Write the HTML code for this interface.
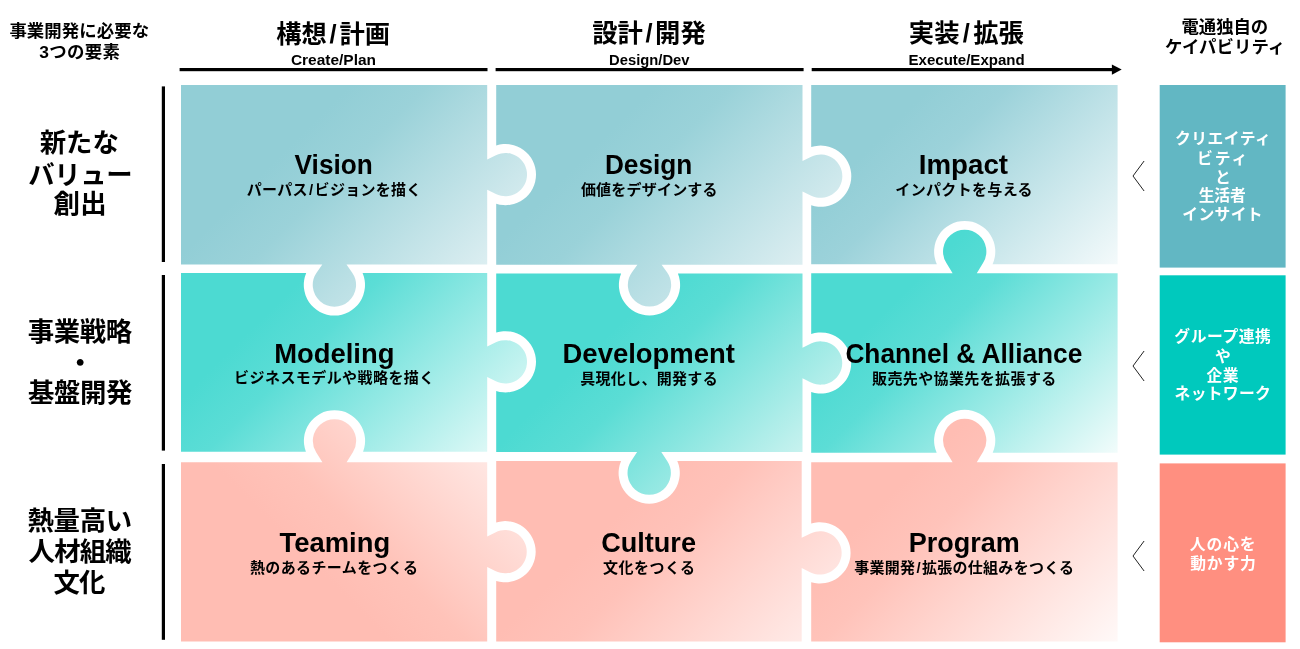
<!DOCTYPE html>
<html lang="ja">
<head>
<meta charset="utf-8">
<title>事業開発に必要な3つの要素</title>
<style>
html,body{margin:0;padding:0;background:#fff;}
body{width:1300px;height:649px;overflow:hidden;}
svg{display:block;will-change:transform;}
text{font-family:"Liberation Sans", "Noto Sans CJK JP", sans-serif;font-weight:700;text-anchor:middle;}
.cap text{fill:#fff;}
.chev{fill:none;stroke:#222;stroke-width:1;}
</style>
</head>
<body>
<svg width="1300" height="649" viewBox="0 0 1300 649" role="img" aria-label="事業開発に必要な3つの要素と電通独自のケイパビリティ">
<defs>
<linearGradient id="g00" gradientUnits="userSpaceOnUse" x1="181" y1="85.1" x2="423.75" y2="327.85"><stop offset="0.35" stop-color="#92ced6"/><stop offset="0.51" stop-color="#9bd2d9"/><stop offset="1" stop-color="#dceef1"/></linearGradient>
<linearGradient id="g01" gradientUnits="userSpaceOnUse" x1="496.2" y1="85.1" x2="739" y2="327.9"><stop offset="0.33" stop-color="#92ced6"/><stop offset="0.49" stop-color="#9ad2d9"/><stop offset="1" stop-color="#dceef1"/></linearGradient>
<linearGradient id="g02" gradientUnits="userSpaceOnUse" x1="811.2" y1="85.1" x2="1054.05" y2="327.95"><stop offset="0.25" stop-color="#92ced6"/><stop offset="0.41" stop-color="#9cd2da"/><stop offset="1" stop-color="#f4fafb"/></linearGradient>
<linearGradient id="g10" gradientUnits="userSpaceOnUse" x1="181" y1="273.2" x2="423.6" y2="515.8"><stop offset="0.26" stop-color="#4cdad2"/><stop offset="0.42" stop-color="#5bddd6"/><stop offset="1" stop-color="#dcf8f6"/></linearGradient>
<linearGradient id="g11" gradientUnits="userSpaceOnUse" x1="496.2" y1="273.2" x2="738.85" y2="515.85"><stop offset="0.36" stop-color="#4cdad2"/><stop offset="0.52" stop-color="#5bddd5"/><stop offset="1" stop-color="#c8f2ef"/></linearGradient>
<linearGradient id="g12" gradientUnits="userSpaceOnUse" x1="811.2" y1="273.2" x2="1053.9" y2="515.9"><stop offset="0.23" stop-color="#4cdad2"/><stop offset="0.39" stop-color="#5cddd6"/><stop offset="1" stop-color="#f2fcfb"/></linearGradient>
<linearGradient id="g20" gradientUnits="userSpaceOnUse" x1="181" y1="641.6" x2="423.95" y2="398.65"><stop offset="0.43" stop-color="#ffbdb3"/><stop offset="0.59" stop-color="#ffc3b9"/><stop offset="1" stop-color="#ffe6e2"/></linearGradient>
<linearGradient id="g21" gradientUnits="userSpaceOnUse" x1="496.2" y1="461.9" x2="739.2" y2="704.9"><stop offset="0.36" stop-color="#ffbdb3"/><stop offset="0.52" stop-color="#ffc2b9"/><stop offset="1" stop-color="#ffeae7"/></linearGradient>
<linearGradient id="g22" gradientUnits="userSpaceOnUse" x1="811.2" y1="461.9" x2="1054.25" y2="704.95"><stop offset="0.23" stop-color="#ffbdb3"/><stop offset="0.39" stop-color="#ffc3ba"/><stop offset="1" stop-color="#fff9f8"/></linearGradient>
</defs>
<rect width="1300" height="649" fill="#fff"/>
<g class="phases">
<rect x="179.6" y="68" width="307.9" height="3.2"/>
<rect x="495.6" y="68" width="308" height="3.2"/>
<rect x="811.7" y="68" width="301" height="3.2"/>
<path d="M1111.9 64.6L1121.7 69.6L1111.9 74.7Z"/>
<text x="333.08" y="42.81" font-size="25.3">構想<tspan dx="2.8">/</tspan><tspan dx="2.8">計画</tspan></text>
<text x="333.45" y="64.5" font-size="14.3" textLength="85.09" lengthAdjust="spacingAndGlyphs">Create/Plan</text>
<text x="649" y="42.49" font-size="25.3">設計<tspan dx="2.6">/</tspan><tspan dx="2.6">開発</tspan></text>
<text x="649.29" y="64.5" font-size="14.3" textLength="80.4" lengthAdjust="spacingAndGlyphs">Design/Dev</text>
<text x="966.36" y="42.47" font-size="25.3">実装<tspan dx="3.4">/</tspan><tspan dx="3.4">拡張</tspan></text>
<text x="966.62" y="64.5" font-size="14.3" textLength="116.21" lengthAdjust="spacingAndGlyphs">Execute/Expand</text>
</g>
<g class="elements">
<text x="79.24" y="37.11" font-size="17.4" textLength="139.66" lengthAdjust="spacing">事業開発に必要な</text>
<text x="79.54" y="57.81" font-size="17.4" textLength="80.53" lengthAdjust="spacing">3つの要素</text>
<g class="element">
<rect x="161.8" y="86.4" width="3.2" height="175.6"/>
<text x="79.23" y="151.5" font-size="26.4" textLength="79.11" lengthAdjust="spacing">新たな</text>
<text x="80.38" y="183.7" font-size="26.4" textLength="104.42" lengthAdjust="spacing">バリュー</text>
<text x="80.13" y="212.99" font-size="26.4" textLength="53.23" lengthAdjust="spacing">創出</text>
</g>
<g class="element">
<rect x="161.8" y="275" width="3.2" height="175.6"/>
<text x="79.96" y="341.04" font-size="26.4" textLength="104.36" lengthAdjust="spacing">事業戦略</text>
<text x="80.1" y="371.88" font-size="26.4">・</text>
<text x="80.15" y="402.03" font-size="26.4" textLength="104.27" lengthAdjust="spacing">基盤開発</text>
</g>
<g class="element">
<rect x="161.8" y="464" width="3.2" height="175.8"/>
<text x="79.82" y="529.99" font-size="26.4" textLength="104.54" lengthAdjust="spacing">熱量高い</text>
<text x="80.16" y="560.78" font-size="26.4" textLength="103.19" lengthAdjust="spacing">人材組織</text>
<text x="79.48" y="591.54" font-size="26.4" textLength="52" lengthAdjust="spacing">文化</text>
</g>
</g>
<g class="puzzle">
<path d="M181 85.1L487.2 85.1L487.2 159.4L495.89 155.15 A21.65 21.65 0 1 1 495.89 194.05 L487.2 189.8L487.2 264.4L346.5 264.4L352.23 272.72 A21.65 21.65 0 1 1 316.57 272.72 L322.3 264.4L181 264.4Z" fill="url(#g00)"/>
<path d="M496.2 85.1L802.5 85.1L802.5 161L811.19 156.75 A21.65 21.65 0 1 1 811.19 195.65 L802.5 191.4L802.5 264.7L661.6 264.7L667.03 272.2 A21.65 21.65 0 1 1 631.97 272.2 L637.4 264.7L496.2 264.7L496.2 203.78 A30.6 30.6 0 1 0 496.2 145.42Z" fill="url(#g01)"/>
<path d="M811.2 85.1L1117.6 85.1L1117.6 264.2L992.54 264.2 A30.6 30.6 0 1 0 936.86 264.2L811.2 264.2L811.2 205.29 A30.6 30.6 0 1 0 811.2 147.11Z" fill="url(#g02)"/>
<path d="M181 273.1L306.21 273.1 A30.6 30.6 0 1 0 362.59 273.1L487.2 273.1L487.2 346.6L495.89 342.35 A21.65 21.65 0 1 1 495.89 381.25 L487.2 377L487.2 451.7L363.09 451.7 A30.6 30.6 0 1 0 305.91 451.7L181 451.7Z" fill="url(#g10)"/>
<path d="M496.2 273.5L621.1 273.5 A30.6 30.6 0 1 0 677.9 273.5L802.5 273.5L802.5 347.8L811 343.59 A21.65 21.65 0 1 1 811 382.41 L802.5 378.2L802.5 452L661.3 452L667.35 461.29 A21.65 21.65 0 1 1 631.05 461.29 L637.1 452L496.2 452L496.2 390.98 A30.6 30.6 0 1 0 496.2 332.62Z" fill="url(#g11)"/>
<path d="M811.2 273.2L952.6 273.2L946.24 262.8 A21.65 21.65 0 1 1 983.16 262.8 L976.8 273.2L1117.6 273.2L1117.6 452.7L992.72 452.7 A30.6 30.6 0 1 0 936.68 452.7L811.2 452.7L811.2 392.12 A30.6 30.6 0 1 0 811.2 333.88Z" fill="url(#g12)"/>
<path d="M181 462.3L322.4 462.3L316.14 452.27 A21.65 21.65 0 1 1 352.86 452.27 L346.6 462.3L487.2 462.3L487.2 536.5L495.31 532.39 A21.65 21.65 0 1 1 495.31 571.01 L487.2 566.9L487.2 641.6L181 641.6Z" fill="url(#g20)"/>
<path d="M496.2 461L621.09 461 A30.6 30.6 0 1 0 677.31 461L801.7 461L801.7 537.7L810.58 533.41 A21.65 21.65 0 1 1 810.58 572.39 L801.7 568.1L801.7 641.6L496.2 641.6L496.2 580.98 A30.6 30.6 0 1 0 496.2 522.42Z" fill="url(#g21)"/>
<path d="M811.2 462.3L952.6 462.3L946.14 451.55 A21.65 21.65 0 1 1 983.26 451.55 L976.8 462.3L1117.6 462.3L1117.6 641.6L811.2 641.6L811.2 582.21 A30.6 30.6 0 1 0 811.2 523.59Z" fill="url(#g22)"/>
<g class="piece-label">
<text x="333.71" y="174" font-size="27" textLength="78.19" lengthAdjust="spacingAndGlyphs">Vision</text>
<text x="334.07" y="194.77" font-size="15" textLength="174.58" lengthAdjust="spacing">パーパス<tspan dx="1.2">/</tspan><tspan dx="1.2">ビジョンを描く</tspan></text>
</g>
<g class="piece-label">
<text x="648.58" y="174" font-size="27" textLength="87.36" lengthAdjust="spacingAndGlyphs">Design</text>
<text x="649.23" y="194.89" font-size="15" textLength="136.65" lengthAdjust="spacing">価値をデザインする</text>
</g>
<g class="piece-label">
<text x="963.41" y="174" font-size="27" textLength="89.26" lengthAdjust="spacingAndGlyphs">Impact</text>
<text x="963.94" y="194.86" font-size="15" textLength="137.21" lengthAdjust="spacing">インパクトを与える</text>
</g>
<g class="piece-label">
<text x="334.33" y="362.5" font-size="27" textLength="120.25" lengthAdjust="spacingAndGlyphs">Modeling</text>
<text x="334.18" y="383.28" font-size="15" textLength="200.14" lengthAdjust="spacing">ビジネスモデルや戦略を描く</text>
</g>
<g class="piece-label">
<text x="648.75" y="362.5" font-size="27" textLength="172.4" lengthAdjust="spacingAndGlyphs">Development</text>
<text x="648.94" y="383.97" font-size="15" textLength="137.51" lengthAdjust="spacing">具現化し、開発する</text>
</g>
<g class="piece-label">
<text x="963.87" y="362.5" font-size="27" textLength="236.95" lengthAdjust="spacingAndGlyphs">Channel &amp; Alliance</text>
<text x="964.17" y="383.58" font-size="15" textLength="184.22" lengthAdjust="spacing">販売先や協業先を拡張する</text>
</g>
<g class="piece-label">
<text x="334.86" y="551.7" font-size="27" textLength="110.53" lengthAdjust="spacingAndGlyphs">Teaming</text>
<text x="333.97" y="572.74" font-size="15" textLength="167.94" lengthAdjust="spacing">熱のあるチームをつくる</text>
</g>
<g class="piece-label">
<text x="648.54" y="551.7" font-size="27" textLength="94.82" lengthAdjust="spacingAndGlyphs">Culture</text>
<text x="648.99" y="572.53" font-size="15" textLength="92.2" lengthAdjust="spacing">文化をつくる</text>
</g>
<g class="piece-label">
<text x="964.28" y="551.7" font-size="27" textLength="111.07" lengthAdjust="spacingAndGlyphs">Program</text>
<text x="964.14" y="573.02" font-size="15" textLength="219.99" lengthAdjust="spacing">事業開発<tspan dx="1.2">/</tspan><tspan dx="1.2">拡張の仕組みをつくる</tspan></text>
</g>
</g>
<g class="capabilities">
<text x="1224.84" y="32.8" font-size="17.4" textLength="86.68" lengthAdjust="spacing">電通独自の</text>
<text x="1225.05" y="53.32" font-size="17.4" textLength="120.26" lengthAdjust="spacing">ケイパビリティ</text>
<g class="cap">
<path class="chev" d="M1144.1 161 L1133 176 L1144.1 191"/>
<rect x="1159.7" y="85" width="125.9" height="182.6" fill="#62b7c3"/>
<text x="1222.9" y="143.75" font-size="15.8" textLength="96.04" lengthAdjust="spacing">クリエイティ</text>
<text x="1222.21" y="163.53" font-size="15.8" textLength="50.31" lengthAdjust="spacing">ビティ</text>
<text x="1223.02" y="182.58" font-size="15.8">と</text>
<text x="1222.23" y="200.82" font-size="15.8" textLength="46.94" lengthAdjust="spacing">生活者</text>
<text x="1222.47" y="220.14" font-size="15.8" textLength="80.33" lengthAdjust="spacing">インサイト</text>
</g>
<g class="cap">
<path class="chev" d="M1144.1 351 L1133 366 L1144.1 381"/>
<rect x="1159.7" y="275.3" width="125.9" height="179.3" fill="#00c9bd"/>
<text x="1222.61" y="342.38" font-size="15.8" textLength="96.64" lengthAdjust="spacing">グループ連携</text>
<text x="1223" y="361.68" font-size="15.8">や</text>
<text x="1222.62" y="380.85" font-size="15.8" textLength="32" lengthAdjust="spacing">企業</text>
<text x="1222.72" y="399.05" font-size="15.8" textLength="96.36" lengthAdjust="spacing">ネットワーク</text>
</g>
<g class="cap">
<path class="chev" d="M1144.1 541 L1133 556 L1144.1 571"/>
<rect x="1159.7" y="463.4" width="125.9" height="178.9" fill="#ff8f80"/>
<text x="1222.73" y="549.83" font-size="15.8" textLength="65.88" lengthAdjust="spacing">人の心を</text>
<text x="1223.02" y="568.86" font-size="15.8" textLength="65.42" lengthAdjust="spacing">動かす力</text>
</g>
</g>
</svg>
</body>
</html>
